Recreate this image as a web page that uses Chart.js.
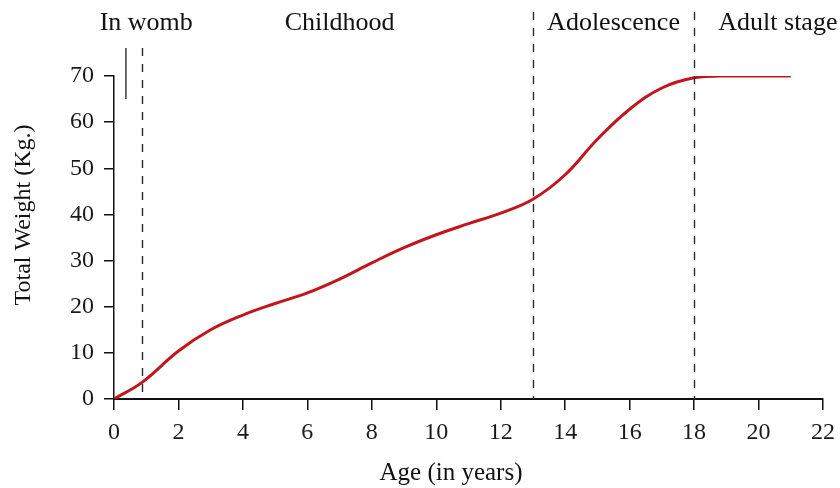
<!DOCTYPE html>
<html>
<head>
<meta charset="utf-8">
<script src="https://cdn.jsdelivr.net/npm/chart.js@4/dist/chart.umd.min.js"></script>
<style>
  html, body { margin: 0; padding: 0; background: #fff; }
  #wrap { width: 840px; height: 488px; position: relative; }
</style>
</head>
<body>
<div id="wrap"><canvas id="growth"></canvas></div>
<script>
// ages (years) and total weight (kg)
const ages    = [0, 0.87, 2, 3, 4, 5, 6, 7, 8, 9, 10, 11, 12, 13, 14, 15, 16, 17, 18, 19, 21];
const weights = [0, 3.6, 10.4, 15, 18.2, 20.7, 23, 26, 29.5, 32.8, 35.6, 38, 40.3, 43.3, 48.6, 56.3, 62.8, 67.4, 69.6, 70, 70];

const xTicks = [0, 2, 4, 6, 8, 10, 12, 14, 16, 18, 20, 22];
const yTicks = [0, 10, 20, 30, 40, 50, 60, 70];

// stage boundaries and labels
const stageLines  = [0.87, 13, 18];
const stageLabels = ['In womb', 'Childhood', 'Adolescence', 'Adult stage'];
const stageLabelX = [1.0, 7.0, 15.5, 20.6];

const xTitle = 'Age (in years)';
const yTitle = 'Total Weight (Kg.)';

const serif = '"Liberation Serif", "Times New Roman", serif';

const stagePlugin = {
  id: 'stages',
  afterDatasetsDraw(chart) {
    const { ctx, scales: { x, y } } = chart;
    ctx.save();
    ctx.strokeStyle = '#2a2a2a';
    ctx.lineWidth = 1.4;
    // short solid bracket line near "In womb"
    ctx.beginPath();
    ctx.moveTo(x.getPixelForValue(0.37), 48);
    ctx.lineTo(x.getPixelForValue(0.37), 99);
    ctx.stroke();
    ctx.setLineDash([8, 8]);
    stageLines.forEach((v, i) => {
      const px = Math.round(x.getPixelForValue(v)) + 0.5;
      ctx.beginPath();
      ctx.moveTo(px, i === 0 ? 48 : 12);
      ctx.lineTo(px, y.getPixelForValue(0));
      ctx.stroke();
    });
    ctx.setLineDash([]);

    ctx.fillStyle = '#111';
    ctx.font = '26px ' + serif;
    ctx.textAlign = 'center';
    ctx.textBaseline = 'alphabetic';
    stageLabels.forEach((t, i) => {
      ctx.fillText(t, x.getPixelForValue(stageLabelX[i]), 30);
    });

    // axis titles
    ctx.font = '25px ' + serif;
    ctx.fillText(xTitle, 451, 480);
    ctx.translate(30, 215);
    ctx.rotate(-Math.PI / 2);
    ctx.font = '24px ' + serif;
    ctx.fillText(yTitle, 0, 0);
    ctx.restore();
  }
};

new Chart(document.getElementById('growth'), {
  type: 'scatter',
  data: {
    datasets: [{
      data: ages.map((a, i) => ({ x: a, y: weights[i] })),
      showLine: true,
      borderColor: '#c0161c',
      borderWidth: 3,
      pointRadius: 0,
      tension: 0.4,
      fill: false
    }]
  },
  options: {
    responsive: true,
    maintainAspectRatio: false,
    animation: false,
    layout: { padding: { top: 76, right: 17, left: 0, bottom: 0 } },
    plugins: { legend: { display: false }, tooltip: { enabled: false } },
    scales: {
      x: {
        type: 'linear',
        min: 0, max: 22,
        afterBuildTicks: s => { s.ticks = xTicks.map(v => ({ value: v })); },
        afterFit: s => { s.height = 89; s.paddingLeft = 0; s.paddingRight = 0; },
        border: { color: '#111', width: 2 },
        grid: { drawOnChartArea: false, color: '#111', lineWidth: 1.5, tickLength: 11 },
        ticks: { color: '#1a1a1a', padding: 8, font: { family: serif, size: 24 } }
      },
      y: {
        min: 0, max: 70,
        afterBuildTicks: s => { s.ticks = yTicks.map(v => ({ value: v })); },
        afterFit: s => { s.width = 114; s.paddingTop = 0; s.paddingBottom = 0; },
        border: { color: '#111', width: 1.5 },
        grid: { drawOnChartArea: false, color: '#111', lineWidth: 1.5, tickLength: 10 },
        ticks: { color: '#1a1a1a', padding: 10, font: { family: serif, size: 24 } }
      }
    }
  },
  plugins: [stagePlugin]
});
</script>
</body>
</html>
